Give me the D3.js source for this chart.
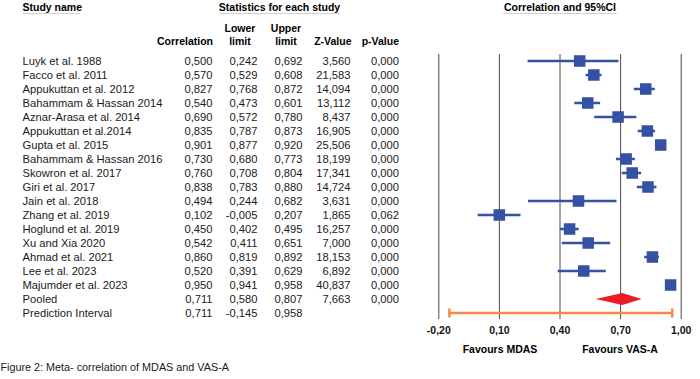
<!DOCTYPE html>
<html>
<head>
<meta charset="utf-8">
<script src="https://cdn.jsdelivr.net/npm/d3@7"></script>
<style>
  body { margin: 0; background: #fff; }
  svg { font-family: "Liberation Sans", Arial, sans-serif; }
</style>
</head>
<body>
<svg class="forest"></svg>
<script>
const studies = ['Luyk et al. 1988', 'Facco et al. 2011', 'Appukuttan et al. 2012', 'Bahammam & Hassan 2014',
	'Aznar-Arasa et al. 2014', 'Appukuttan et al.2014', 'Gupta et al. 2015', 'Bahammam & Hassan 2016',
	'Skowron et al. 2017', 'Giri et al. 2017', 'Jain et al. 2018', 'Zhang et al. 2019', 'Hoglund et al. 2019',
	'Xu and Xia 2020', 'Ahmad et al. 2021', 'Lee et al. 2023', 'Majumder et al. 2023'];
const correlation = [0.500, 0.570, 0.827, 0.540, 0.690, 0.835, 0.901, 0.730, 0.760, 0.838, 0.494, 0.102, 0.450, 0.542, 0.860, 0.520, 0.950];
const lowerLimit = [0.242, 0.529, 0.768, 0.473, 0.572, 0.787, 0.877, 0.680, 0.708, 0.783, 0.244, -0.005, 0.402, 0.411, 0.819, 0.391, 0.941];
const upperLimit = [0.692, 0.608, 0.872, 0.601, 0.780, 0.873, 0.920, 0.773, 0.804, 0.880, 0.682, 0.207, 0.495, 0.651, 0.892, 0.629, 0.958];
const zValue = [3.560, 21.583, 14.094, 13.112, 8.437, 16.905, 25.506, 18.199, 17.341, 14.724, 3.631, 1.865, 16.257, 7.000, 18.153, 6.892, 40.837];
const pValue = [0.000, 0.000, 0.000, 0.000, 0.000, 0.000, 0.000, 0.000, 0.000, 0.000, 0.000, 0.062, 0.000, 0.000, 0.000, 0.000, 0.000];

const pooled = { name: 'Pooled', r: 0.711, lo: 0.580, hi: 0.807, z: 7.663, p: 0.000 };
const prediction = { name: 'Prediction Interval', r: 0.711, lo: -0.145, hi: 0.958 };

const xTicks = [-0.2, 0.1, 0.4, 0.7, 1.0];

const svg = d3.select('.forest')
	.attr('width', 700)
	.attr('height', 379);

const blue = '#3451a3',
	red = '#ec1c24',
	orange = '#f5894a',
	grid = '#4a4a4a';

const loc = d3.formatLocale({ decimal: ',', thousands: '.', grouping: [3], currency: ['', ''], minus: '-' });
const f3 = loc.format('.3f'),
	f2 = loc.format('.2f');

const rows = studies.map((s, i) => ({
	name: s, r: correlation[i], lo: lowerLimit[i], hi: upperLimit[i], z: zValue[i], p: pValue[i]
}));
const allRows = rows.concat([pooled, prediction]);

const xScale = d3.scaleLinear()
	.domain([-0.2, 1.0])
	.range([438.3, 680.7]);

const yScale = d3.scalePoint()
	.domain(allRows.map(d => d.name))
	.range([61, 313]);

// headers
const headers = [
	{ t: 'Study name', x: 22.5, a: 'start', u: [22.5, 80] },
	{ t: 'Statistics for each study', x: 279.5, a: 'middle', u: [219, 340] },
	{ t: 'Correlation and 95%CI', x: 560, a: 'middle', u: [503, 617] }
];
headers.forEach(h => {
	svg.append('text')
		.attr('x', h.x).attr('y', 7)
		.attr('dy', '0.35em')
		.attr('text-anchor', h.a)
		.attr('font-size', 10.5)
		.attr('font-weight', 'bold')
		.text(h.t);
	svg.append('line')
		.attr('x1', h.u[0]).attr('x2', h.u[1])
		.attr('y1', 13.5).attr('y2', 13.5)
		.attr('stroke', '#d0d0d0')
		.attr('stroke-width', 1);
});

const colHeads = [
	{ t: 'Correlation', x: 213, y: 41, a: 'end' },
	{ t: 'Lower', x: 240, y: 28, a: 'middle' },
	{ t: 'limit', x: 240, y: 41, a: 'middle' },
	{ t: 'Upper', x: 286, y: 28, a: 'middle' },
	{ t: 'limit', x: 286, y: 41, a: 'middle' },
	{ t: 'Z-Value', x: 351.5, y: 41, a: 'end' },
	{ t: 'p-Value', x: 399, y: 41, a: 'end' }
];
svg.selectAll('text.colhead')
	.data(colHeads)
	.enter().append('text')
	.attr('class', 'colhead')
	.attr('x', d => d.x).attr('y', d => d.y)
	.attr('dy', '0.35em')
	.attr('text-anchor', d => d.a)
	.attr('font-size', 10.5)
	.attr('font-weight', 'bold')
	.text(d => d.t);

// table
const cols = [
	{ x: 212.5, v: d => f3(d.r) },
	{ x: 257.5, v: d => f3(d.lo) },
	{ x: 302.5, v: d => f3(d.hi) },
	{ x: 350.5, v: d => d.z === undefined ? '' : f3(d.z) },
	{ x: 399, v: d => d.p === undefined ? '' : f3(d.p) }
];

const rowG = svg.selectAll('g.row')
	.data(allRows)
	.enter().append('g')
	.attr('class', 'row')
	.attr('transform', d => `translate(0, ${yScale(d.name)})`);

rowG.append('text')
	.attr('x', 22.5)
	.attr('dy', '0.35em')
	.attr('font-size', 11.2)
	.attr('fill', '#1a1a1a')
	.text(d => d.name);

cols.forEach(c => {
	rowG.append('text')
		.attr('x', c.x)
		.attr('dy', '0.35em')
		.attr('text-anchor', 'end')
		.attr('font-size', 11.2)
		.attr('fill', '#1a1a1a')
		.text(c.v);
});

// gridlines
const gridAxis = d3.axisBottom(xScale)
	.tickValues(xTicks)
	.tickSize(-(319 - 54))
	.tickFormat('');
const gridG = svg.append('g')
	.attr('transform', 'translate(0, 319)')
	.call(gridAxis);
gridG.select('.domain').remove();
gridG.selectAll('.tick line').attr('stroke', grid).attr('stroke-width', 1);

// tick labels
const xAxis = d3.axisBottom(xScale)
	.tickValues(xTicks)
	.tickSize(0)
	.tickPadding(0)
	.tickFormat(f2);
const xAxisG = svg.append('g')
	.attr('transform', 'translate(0, 330)')
	.call(xAxis);
xAxisG.select('.domain').remove();
xAxisG.selectAll('.tick text')
	.attr('y', 0)
	.attr('dy', '0.35em')
	.attr('font-family', '"Liberation Sans", Arial, sans-serif')
	.attr('font-size', 10.5)
	.attr('font-weight', 'bold')
	.attr('fill', '#111');

// study CIs and markers
const plotG = svg.append('g');
plotG.selectAll('line.ci')
	.data(rows)
	.enter().append('line')
	.attr('class', 'ci')
	.attr('x1', d => xScale(d.lo))
	.attr('x2', d => xScale(d.hi))
	.attr('y1', d => yScale(d.name))
	.attr('y2', d => yScale(d.name))
	.attr('stroke', blue)
	.attr('stroke-width', 2.5);

const box = 11.5;
plotG.selectAll('rect.mark')
	.data(rows)
	.enter().append('rect')
	.attr('class', 'mark')
	.attr('x', d => xScale(d.r) - box / 2)
	.attr('y', d => yScale(d.name) - box / 2)
	.attr('width', box)
	.attr('height', box)
	.attr('fill', blue);

// pooled diamond
const py = yScale(pooled.name);
plotG.append('path')
	.attr('d', `M${xScale(pooled.lo)},${py} L${xScale(pooled.r)},${py - 6} L${xScale(pooled.hi)},${py} L${xScale(pooled.r)},${py + 6} Z`)
	.attr('fill', red);

// prediction interval
const qy = yScale(prediction.name);
plotG.append('line')
	.attr('x1', xScale(prediction.lo)).attr('x2', xScale(prediction.hi))
	.attr('y1', qy).attr('y2', qy)
	.attr('stroke', orange)
	.attr('stroke-width', 2.5);
[prediction.lo, prediction.hi].forEach(v => {
	plotG.append('line')
		.attr('x1', xScale(v)).attr('x2', xScale(v))
		.attr('y1', qy - 4.5).attr('y2', qy + 4.5)
		.attr('stroke', orange)
		.attr('stroke-width', 2.5);
});

// favours labels
svg.append('text')
	.attr('x', 500).attr('y', 349)
	.attr('dy', '0.35em')
	.attr('text-anchor', 'middle')
	.attr('font-size', 10.5)
	.attr('font-weight', 'bold')
	.text('Favours MDAS');
svg.append('text')
	.attr('x', 620).attr('y', 349)
	.attr('dy', '0.35em')
	.attr('text-anchor', 'middle')
	.attr('font-size', 10.5)
	.attr('font-weight', 'bold')
	.text('Favours VAS-A');

// caption
svg.append('text')
	.attr('x', 0.5).attr('y', 367)
	.attr('dy', '0.35em')
	.attr('font-size', 10.8)
	.attr('fill', '#1a1a1a')
	.text('Figure 2: Meta- correlation of MDAS and VAS-A');
</script>
</body>
</html>
